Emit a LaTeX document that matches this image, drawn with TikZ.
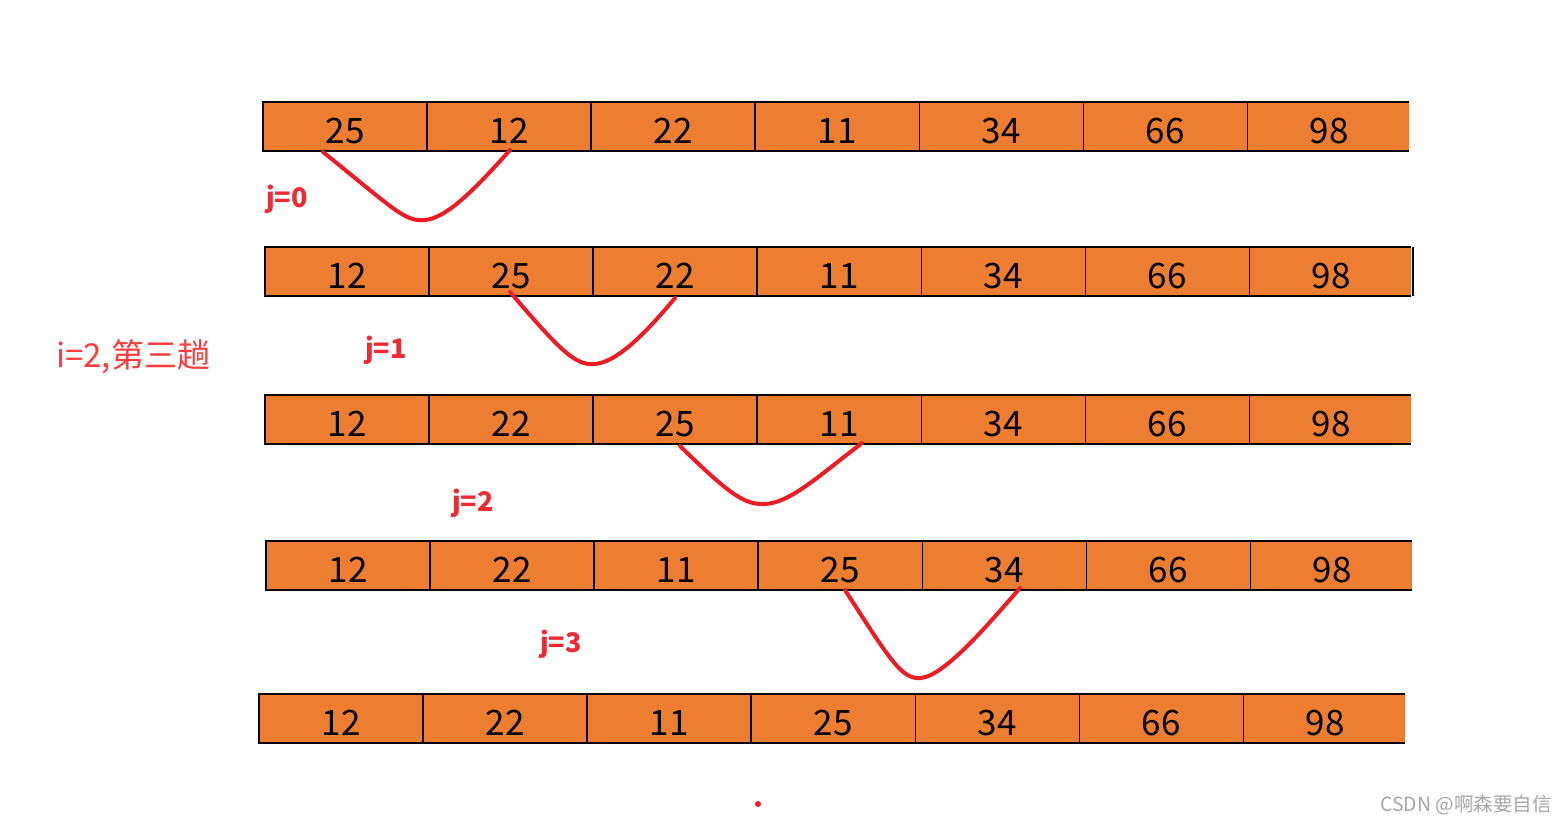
\documentclass[tikz,border=0pt]{standalone}
\usepackage{fontspec}
\setmainfont{Noto Sans CJK SC}
\definecolor{cellorange}{HTML}{ED7D31}
\definecolor{swapred}{HTML}{ED1C24}
\definecolor{labred}{HTML}{EE2A33}
\definecolor{ired}{HTML}{FF3B3B}
\definecolor{wmgray}{HTML}{A6A6A6}
\tikzset{
  num/.style={anchor=base, inner sep=0pt, font=\fontsize{35}{40}\selectfont},
  jlab/.style={text=labred, inner sep=0pt, font=\bfseries\fontsize{27}{30}\selectfont},
  thickbox/.style={line width=2.3pt, draw=black},
  thinline/.style={line width=1.2pt, draw=black},
  swapcurve/.style={draw=swapred, line width=4pt, line cap=round},
}
\begin{document}
\begin{tikzpicture}[x=1pt,y=-1pt]
\useasboundingbox (0,0) rectangle (1568,823);
\fill[white] (0,0) rectangle (1568,823);

\foreach \r/\x/\y/\vals/\rb in {
  1/263/102/{25,12,22,11,34,66,98}/0,
  2/265/247/{12,25,22,11,34,66,98}/1,
  3/265/395/{12,22,25,11,34,66,98}/0,
  4/266/541/{12,22,11,25,34,66,98}/0,
  5/259/694/{12,22,11,25,34,66,98}/0}{
  \fill[cellorange] (\x,\y) rectangle ++(1146,49);
  \draw[thinline] (\x+492,\y) -- (\x+1146,\y);
  \draw[thinline] (\x+492,\y+49) -- (\x+1146,\y+49);
  \foreach \d in {656,820,984}{
    \draw[line width=0.9pt] (\x+\d,\y) -- ++(0,49);
  }
  \ifnum\rb=1
    \draw[thinline] (\x+1148,\y) -- ++(0,49);
  \fi
  \draw[thickbox] (\x,\y) rectangle ++(492,49);
  \foreach \d in {164,328}{
    \draw[thickbox] (\x+\d,\y) -- ++(0,49);
  }
  \foreach \v [count=\k] in \vals {
    \node[num] (r\r-\k) at (\x+164*\k-82,\y+41) {\v};
  }
}

% swap curves
\coordinate (s1a) at (323,152); \coordinate (s1m) at (425,220); \coordinate (s1b) at (510,150);
\coordinate (s2a) at (510,292); \coordinate (s2m) at (595,364); \coordinate (s2b) at (675,298);
\coordinate (s3a) at (680,446); \coordinate (s3m) at (765,504); \coordinate (s3b) at (862,443);
\coordinate (s4a) at (845,590); \coordinate (s4m) at (921,678); \coordinate (s4b) at (1020,588);

\draw[swapcurve] (s1a) .. controls (395,210) and (405,222) .. (s1m)
                       .. controls (445,218) and (470,195) .. (s1b);
\draw[swapcurve] (s2a) .. controls (560,350) and (575,366) .. (s2m)
                       .. controls (615,362) and (640,340) .. (s2b);
\draw[swapcurve] (s3a) .. controls (730,495) and (745,505) .. (s3m)
                       .. controls (790,503) and (820,475) .. (s3b);
\draw[swapcurve] (s4a) .. controls (890,660) and (902,680) .. (s4m)
                       .. controls (945,675) and (985,628) .. (s4b);

% labels
\node[jlab] (j0) at (287,199) {j=0};
\node[jlab] (j1) at (386,350) {j=1};
\node[jlab] (j2) at (473,503) {j=2};
\node[jlab] (j3) at (561,644) {j=3};

\node[anchor=base west, inner sep=0pt, text=ired, font=\fontsize{33}{38}\selectfont] (pass) at (56,367) {i=2,第三趟};

\node[circle, fill=swapred, inner sep=0pt, minimum size=6pt] (dot) at (758,804) {};

\node[anchor=base east, inner sep=0pt, text=wmgray, font=\fontsize{19.5}{23}\selectfont] (wm) at (1552,811) {CSDN @啊森要自信};
\end{tikzpicture}
\end{document}
